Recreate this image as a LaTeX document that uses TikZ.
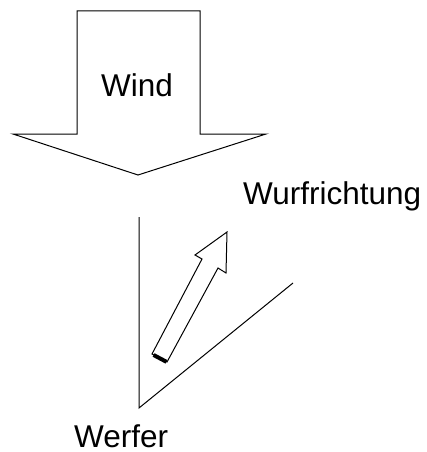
\documentclass[tikz,border=0pt]{standalone}
\usepackage{fontspec}
\setmainfont{Liberation Sans}
\begin{document}
\begin{tikzpicture}[x=1pt,y=-1pt,
  lbl/.style={inner sep=0pt,anchor=base west,font=\fontsize{31.5}{36}\selectfont},
  outl/.style={draw=black,line width=1pt,line join=miter}]
\useasboundingbox (0,0) rectangle (426,452);
% wind arrow
\draw[outl,fill=white] (77,11) -- (200,11) -- (200,134) -- (266,134) -- (138,175) -- (13,134) -- (77,134) -- cycle;
\node[lbl] (wind) at (101,96) {Wind};
% thrower angle
\coordinate (top) at (139,217);
\coordinate (apex) at (139,408);
\coordinate (right) at (293,283);
\draw[outl] (top) -- (apex) -- (right);
% throw direction arrow
\draw[outl,fill=white] (152,354) -- (202,259) -- (195,255) -- (227,232) -- (226,273) -- (218,268) -- (167,362) -- cycle;
\draw[line width=4pt] (153.6,355.0) -- (166.4,361.8);
\node[lbl] (wurf) at (243,204) {Wurfrichtung};
\node[lbl] (werfer) at (74,447) {Werfer};
\end{tikzpicture}
\end{document}
